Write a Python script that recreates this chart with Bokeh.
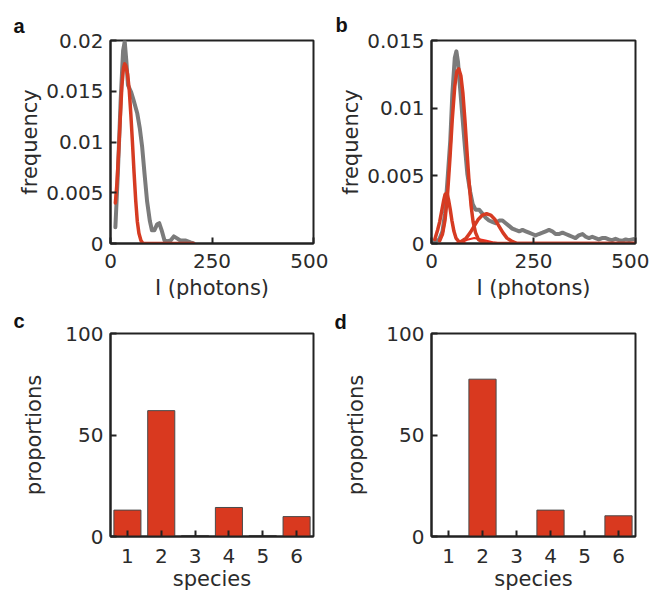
from bokeh.plotting import figure
from bokeh.layouts import column, row
from bokeh.models import Range1d, FixedTicker
from bokeh.embed import file_html
from bokeh.resources import INLINE

# ---------------- data ----------------
# panel a : intensity distribution (grey) and single-species fit (red)
a_grey_x = [12, 18, 25, 31, 35, 39, 43, 51, 57, 66, 72, 78, 84, 90, 97, 102, 108, 115, 120, 126,
            133, 139, 148, 156, 164, 172, 184, 197, 205]
a_grey_y = [0.0016, 0.0068, 0.0141, 0.0190, 0.0199, 0.0180, 0.0156, 0.0149, 0.0141, 0.0128, 0.0114,
            0.0095, 0.0068, 0.0042, 0.0022, 0.0013, 0.0013, 0.0019, 0.0020, 0.0013,
            0.0003, 0.0002, 0.0003, 0.0007, 0.0005, 0.0003, 0.0003, 0.0001, 0.0]
a_fit_x = [12, 16, 20, 24, 28, 32, 35, 38, 42, 46, 50, 54, 58, 62, 66, 70, 75, 80, 90, 150, 205]
a_fit_y = [0.0040, 0.0060, 0.0090, 0.0123, 0.0155, 0.0173, 0.0177, 0.0175, 0.0167, 0.0152, 0.0128,
           0.0100, 0.0070, 0.0043, 0.0022, 0.0010, 0.0003, 0.0, 0.0, 0.0, 0.0]

# panel b : intensity distribution (grey) and species fits (red)
b_grey_x = [6, 19, 27, 33, 39, 46, 51, 57, 61, 65, 70, 76, 82, 88, 95, 101, 108, 117, 125, 133,
            141, 149, 157, 166, 174, 182, 190, 198, 206, 215, 223, 231, 239, 247, 255, 263,
            272, 280, 288, 296, 304, 312, 321, 329, 337, 345, 353, 361, 370, 378, 386, 394,
            402, 410, 418, 427, 435, 443, 451, 459, 467, 476, 484, 492, 500]
b_grey_y = [0.0001, 0.0003, 0.0009, 0.0022, 0.0046, 0.0076, 0.0110, 0.0137, 0.0142, 0.0134,
            0.0115, 0.0093, 0.0071, 0.0051, 0.0038, 0.0029, 0.0025, 0.0025, 0.0022, 0.0019,
            0.0017, 0.0016, 0.0015, 0.0017, 0.0017, 0.0015, 0.0013, 0.0011, 0.0010, 0.0009,
            0.0010, 0.0009, 0.0008, 0.0007, 0.0006, 0.0007, 0.0008, 0.0009, 0.0010, 0.0009,
            0.0007, 0.0007, 0.0008, 0.0007, 0.0006, 0.0005, 0.0004, 0.0006, 0.0007, 0.0005,
            0.0004, 0.0005, 0.0004, 0.0003, 0.0004, 0.0004, 0.0003, 0.00025, 0.00035, 0.00025,
            0.0002, 0.0003, 0.00025, 0.0003, 0.00035]
b_fit1_x = [8, 15, 20, 25, 30, 33, 36, 39, 42, 46, 50, 55, 60, 68, 80]
b_fit1_y = [0.0003, 0.0010, 0.0016, 0.0024, 0.0032, 0.0036, 0.0037, 0.0036, 0.0032, 0.0025,
            0.0017, 0.0009, 0.0004, 0.0001, 0.0]
b_fit2_x = [20, 27, 33, 39, 45, 51, 57, 62, 67, 72, 77, 82, 87, 92, 97, 102, 108, 115, 125, 140, 500]
b_fit2_y = [0.0002, 0.0007, 0.0017, 0.0035, 0.0062, 0.0092, 0.0116, 0.0127, 0.0129, 0.0124,
            0.0111, 0.0091, 0.0068, 0.0046, 0.0028, 0.0016, 0.0008, 0.0003, 0.0001, 0.0, 0.0]
b_fit3_x = [70, 85, 95, 105, 115, 125, 135, 145, 155, 165, 175, 185, 195, 210, 500]
b_fit3_y = [0.0001, 0.0004, 0.0008, 0.0013, 0.0018, 0.0021, 0.0022, 0.0021, 0.0018, 0.0013,
            0.0008, 0.0004, 0.0002, 0.0, 0.0]
b_fit4_x = [60, 75, 90, 105, 120, 135, 150, 170]
b_fit4_y = [0.0, 0.0001, 0.0003, 0.0004, 0.0003, 0.0002, 0.0001, 0.0]

# panels c, d : species proportions
species = [1, 2, 3, 4, 5, 6]
species_labels = ["1", "2", "3", "4", "5", "6"]
c_props = [13.0, 62.0, 0.5, 14.3, 0.5, 9.8]
d_props = [0.0, 77.5, 0.0, 13.0, 0.0, 10.2]

# tick values / labels
x_ticks_int = [0, 250, 500]
x_labels_int = ["0", "250", "500"]
y_ticks_a = [0, 0.005, 0.01, 0.015, 0.02]
y_labels_a = ["0", "0.005", "0.01", "0.015", "0.02"]
y_ticks_b = [0, 0.005, 0.01, 0.015]
y_labels_b = ["0", "0.005", "0.01", "0.015"]
y_ticks_p = [0, 50, 100]
y_labels_p = ["0", "50", "100"]

# ---------------- style ----------------
FONT = "DejaVu Sans"
LETTER_FONT = "Liberation Sans"
TXT = "#2b2b2b"
FRAME = "#222222"
GREY = "#7b7b7b"
RED = "#d63b22"
BRIGHT = "#ee2a1c"
BAR = "#d9391f"
TICK_FS = "20px"
LAB_FS = "21px"


def base_fig(w, h, bl, br, bt, bb, xr, yr):
    p = figure(width=w, height=h, min_border_left=bl, min_border_right=br,
               min_border_top=bt, min_border_bottom=bb, x_range=xr, y_range=yr,
               output_backend="svg", toolbar_location=None, tools="")
    p.grid.visible = False
    p.outline_line_color = FRAME
    p.outline_line_width = 2
    p.background_fill_color = "white"
    p.border_fill_color = "white"
    for ax in (p.xaxis[0], p.yaxis[0]):
        ax.axis_line_color = FRAME
        ax.axis_line_width = 2
        ax.major_tick_line_color = FRAME
        ax.major_tick_line_width = 2
        ax.major_tick_in = 6
        ax.major_tick_out = 0
        ax.minor_tick_line_color = None
        ax.major_label_text_font = FONT
        ax.major_label_text_font_size = TICK_FS
        ax.major_label_text_color = TXT
        ax.axis_label_text_font = FONT
        ax.axis_label_text_font_size = LAB_FS
        ax.axis_label_text_color = TXT
        ax.axis_label_text_font_style = "normal"
    return p


def set_ticks(ax, vals, labels):
    ax.ticker = FixedTicker(ticks=vals)
    ax.major_label_overrides = dict(zip(vals, labels))


def letter(p, txt, offset, standoff):
    p.title.text = txt
    p.title.align = "left"
    p.title.offset = offset
    p.title.standoff = standoff
    p.title.text_font = LETTER_FONT
    p.title.text_font_style = "bold"
    p.title.text_font_size = "20px"
    p.title.text_color = "#111111"


# ---------- panel a ----------
pa = base_fig(328, 306, 110, 15, 40, 63, Range1d(0, 500), Range1d(0, 0.02))
set_ticks(pa.xaxis[0], x_ticks_int, x_labels_int)
set_ticks(pa.yaxis[0], y_ticks_a, y_labels_a)
pa.xaxis.axis_label = "I (photons)"
pa.yaxis.axis_label = "frequency"
pa.xaxis.major_label_standoff = 10
pa.xaxis.axis_label_standoff = 5
pa.yaxis.major_label_standoff = 7
pa.yaxis.axis_label_standoff = 1
pa.line(a_grey_x, a_grey_y, line_color=GREY, line_width=4, line_join="round", line_cap="round")
pa.line(a_fit_x, a_fit_y, line_color=RED, line_width=3.5, line_join="round", line_cap="round")
letter(pa, "a", -97, 8)

# ---------- panel b ----------
pb = base_fig(321, 306, 103, 14, 40, 63, Range1d(0, 500), Range1d(0, 0.015))
set_ticks(pb.xaxis[0], x_ticks_int, x_labels_int)
set_ticks(pb.yaxis[0], y_ticks_b, y_labels_b)
pb.xaxis.axis_label = "I (photons)"
pb.yaxis.axis_label = "frequency"
pb.xaxis.major_label_standoff = 10
pb.xaxis.axis_label_standoff = 5
pb.yaxis.major_label_standoff = 7
pb.yaxis.axis_label_standoff = 1
pb.line(b_grey_x, b_grey_y, line_color=GREY, line_width=4, line_join="round", line_cap="round")
pb.line(b_fit4_x, b_fit4_y, line_color=BRIGHT, line_width=2, line_join="round", line_cap="round")
pb.line(b_fit3_x, b_fit3_y, line_color=RED, line_width=3.5, line_join="round", line_cap="round")
pb.line(b_fit1_x, b_fit1_y, line_color=RED, line_width=3.5, line_join="round", line_cap="round")
pb.line(b_fit2_x, b_fit2_y, line_color=RED, line_width=3.5, line_join="round", line_cap="round")
letter(pb, "b", -96, 9)


# ---------- panels c, d ----------
def bar_fig(w, bl, br, vals, let, off, so, lab_so):
    p = base_fig(w, 291, bl, br, 27, 61, Range1d(0.5, 6.5), Range1d(0, 100))
    set_ticks(p.xaxis[0], species, species_labels)
    set_ticks(p.yaxis[0], y_ticks_p, y_labels_p)
    p.xaxis.axis_label = "species"
    p.yaxis.axis_label = "proportions"
    p.xaxis.major_label_standoff = 12
    p.xaxis.axis_label_standoff = 1
    p.yaxis.major_label_standoff = 7
    p.yaxis.axis_label_standoff = lab_so
    p.vbar(x=species, top=vals, bottom=0, width=0.8, fill_color=BAR, line_color="#4a4a4a",
           line_width=1)
    letter(p, let, off, so)
    return p


pc = bar_fig(328, 110, 15, c_props, "c", -97, 3, 16)
pd_ = bar_fig(321, 103, 14, d_props, "d", -97, 2, 15)

layout = column(row(pa, pb), row(pc, pd_))

open("out.html", "w").write(file_html(layout, INLINE))
